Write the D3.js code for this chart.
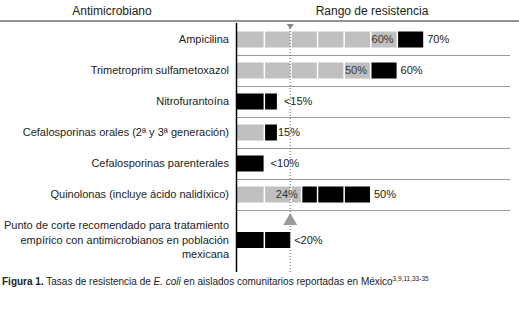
<!DOCTYPE html>
<html>
<head>
<meta charset="utf-8">
<script src="https://cdn.jsdelivr.net/npm/d3@7"></script>
<style>
  body { margin: 0; background: #fff; }
  svg { display: block; font-family: "Liberation Sans", Arial, sans-serif; }
</style>
</head>
<body>
<div id="chart"></div>
<script>
// Tasas de resistencia de E. coli

const categories = [
  "Ampicilina",
  "Trimetroprim sulfametoxazol",
  "Nitrofurantoína",
  "Cefalosporinas orales (2ª y 3ª generación)",
  "Cefalosporinas parenterales",
  "Quinolonas (incluye ácido nalidíxico)"
];
const grayEnd = [60, 50, 0, 10, 0, 24];      // lower bound of the range
const blackEnd = [70, 60, 15, 15, 10, 50];   // upper bound of the range
const innerLabels = ["60%", "50%", "", "", "", "24%"];
const outerLabels = ["70%", "60%", "<15%", "15%", "<10%", "50%"];

const cutoffText = ["Punto de corte recomendado para tratamiento",
  "empírico con antimicrobianos en población", "mexicana"];
const cutoffValue = 20;
const cutoffLabel = "<20%";
const step = 10;

const W = 519, H = 309;

const svg = d3.select("#chart").append("svg")
  .attr("width", W).attr("height", H);

const x = d3.scaleLinear().domain([0, 100]).range([237, 503]);
const y = d3.scaleBand().domain(categories).range([24, 210]);
const barH = 16;

// split a range into 10% blocks
function blocks(a, b) {
  const out = [];
  let s = a;
  while (s < b) {
    const e = Math.min(b, (Math.floor(s / step) + 1) * step);
    out.push([s, e]);
    s = e;
  }
  return out;
}

const rows = categories.map((c, i) => {
  const segs = blocks(0, grayEnd[i]).map(d => ({ s: d[0], e: d[1], fill: "#c0c0c0" }))
    .concat(blocks(grayEnd[i], blackEnd[i]).map(d => ({ s: d[0], e: d[1], fill: "#000" })));
  return { cat: c, segs: segs, inner: innerLabels[i], outer: outerLabels[i], g: grayEnd[i], b: blackEnd[i] };
});

// header
svg.append("text").attr("x", 112).attr("y", 15).attr("text-anchor", "middle")
  .attr("font-size", "12px").attr("fill", "#222").text("Antimicrobiano");
svg.append("text").attr("x", 372).attr("y", 15).attr("text-anchor", "middle")
  .attr("font-size", "12px").attr("fill", "#222").text("Rango de resistencia");
svg.append("line").attr("x1", 0).attr("x2", W).attr("y1", 21).attr("y2", 21)
  .attr("stroke", "#707070").attr("stroke-width", 1.5);

// row separators
svg.selectAll(".sep").data(categories).enter().append("line")
  .attr("class", "sep")
  .attr("x1", x(0)).attr("x2", 510)
  .attr("y1", d => y(d) + y.bandwidth() + 0.5).attr("y2", d => y(d) + y.bandwidth() + 0.5)
  .attr("stroke", "#9a9a9a").attr("stroke-width", 1);

// row labels
svg.selectAll(".lab").data(categories).enter().append("text")
  .attr("class", "lab")
  .attr("x", 229).attr("y", d => y(d) + y.bandwidth() / 2).attr("dy", "0.35em")
  .attr("text-anchor", "end").attr("font-size", "11px").attr("fill", "#222")
  .text(d => d);

// bars
const rowG = svg.selectAll(".row").data(rows).enter().append("g")
  .attr("class", "row")
  .attr("transform", d => "translate(0," + (y(d.cat) + y.bandwidth() / 2 - barH / 2) + ")");

rowG.selectAll("rect").data(d => d.segs).enter().append("rect")
  .attr("x", d => x(d.s) + (d.s > 0 ? 1.5 : 0))
  .attr("width", d => x(d.e) - x(d.s) - (d.s > 0 ? 1.5 : 0))
  .attr("y", 0).attr("height", barH)
  .attr("fill", d => d.fill);

rowG.append("text")
  .attr("x", d => x(d.g) - 3).attr("y", barH / 2).attr("dy", "0.35em")
  .attr("text-anchor", "end").attr("font-size", "11px").attr("fill", "#333")
  .text(d => d.inner);

rowG.append("text")
  .attr("x", d => x(d.b) + (d.outer.startsWith("<") ? 7 : (d.g > 0 && d.g < 20 ? 1 : 4)))
  .attr("y", barH / 2).attr("dy", "0.35em")
  .attr("font-size", "11px").attr("fill", "#222")
  .text(d => d.outer);

// cutoff row
const cy = 240;
svg.append("g").selectAll("text").data(cutoffText).enter().append("text")
  .attr("x", 229).attr("y", (d, i) => cy + (i - 1) * 14.5).attr("dy", "0.35em")
  .attr("text-anchor", "end").attr("font-size", "11px").attr("fill", "#222")
  .text(d => d);

svg.append("g").selectAll("rect").data(blocks(0, cutoffValue)).enter().append("rect")
  .attr("x", d => x(d[0]) + (d[0] > 0 ? 1.5 : 0))
  .attr("width", d => x(d[1]) - x(d[0]) - (d[0] > 0 ? 1.5 : 0))
  .attr("y", cy - barH / 2).attr("height", barH)
  .attr("fill", "#000");

svg.append("text").attr("x", x(cutoffValue) + 4).attr("y", cy).attr("dy", "0.35em")
  .attr("font-size", "11px").attr("fill", "#222").text(cutoffLabel);

// cutoff marker: dotted line + triangles
const cx = x(cutoffValue);
svg.append("line").attr("x1", cx).attr("x2", cx).attr("y1", 28).attr("y2", 272)
  .attr("stroke", "#666").attr("stroke-width", 1).attr("stroke-dasharray", "1,2");
svg.append("path")
  .attr("d", `M${cx - 3.5},24 L${cx + 3.5},24 L${cx},29.5 Z`)
  .attr("fill", "#8a8a8a");
svg.append("path")
  .attr("d", `M${cx - 7},225 L${cx + 7},225 L${cx},213 Z`)
  .attr("fill", "#9a9a9a");

// vertical axis
svg.append("line").attr("x1", x(0) - 0.5).attr("x2", x(0) - 0.5).attr("y1", 23).attr("y2", 272)
  .attr("stroke", "#000").attr("stroke-width", 1.5);

// caption
const cap = svg.append("text").attr("x", 2).attr("y", 285)
  .attr("font-size", "10px").attr("fill", "#222");
cap.append("tspan").attr("font-weight", "bold").text("Figura 1.");
cap.append("tspan").text(" Tasas de resistencia de ");
cap.append("tspan").attr("font-style", "italic").text("E. coli");
cap.append("tspan").text(" en aislados comunitarios reportadas en México");
cap.append("tspan").attr("font-size", "6.5px").attr("dy", -4).text("3,9,11,33-35");
</script>
</body>
</html>
